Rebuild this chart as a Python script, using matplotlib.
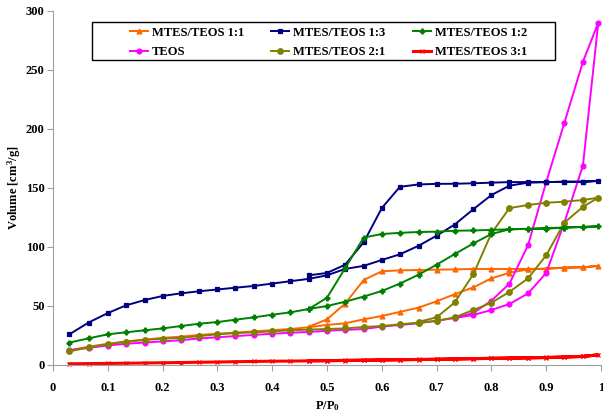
import matplotlib
matplotlib.use("Agg")
from matplotlib import pyplot as plt
from matplotlib.patches import Rectangle

plt.rcParams['font.family'] = ['Liberation Serif', 'DejaVu Serif']
plt.rcParams['font.weight'] = 'bold'
plt.rcParams['mathtext.fontset'] = 'custom'
plt.rcParams['mathtext.rm'] = 'Liberation Serif:bold'
plt.rcParams['mathtext.it'] = 'Liberation Serif:bold'

# relative pressure, adsorption and desorption points
p_ads = [0.03, 0.065, 0.1, 0.133, 0.167, 0.2, 0.233, 0.267, 0.3, 0.333, 0.367, 0.4, 0.433, 0.467, 0.5,
         0.533, 0.567, 0.6, 0.633, 0.667, 0.7, 0.733, 0.767, 0.8, 0.833, 0.867, 0.9, 0.933, 0.967, 0.995]
p_des = [0.967, 0.933, 0.9, 0.867, 0.833, 0.8, 0.767, 0.733, 0.7, 0.667, 0.633, 0.6, 0.567, 0.533, 0.5, 0.467]

# MTES/TEOS 1:1
ads_11 = [12.5, 15.5, 18, 20, 21.5, 23, 24, 25.5, 26.5, 27.5, 28.5, 29.5, 30.5, 32, 34,
          35.3, 38.7, 41.5, 45, 48.6, 54, 60, 65.8, 73.4, 78.2, 81, 81.6, 82.5, 82.8, 84]
des_11 = [82.8, 82.5, 81.6, 81.4, 81.4, 81.4, 81.4, 81, 80.8, 80.5, 80.2, 79.4, 72, 52, 38.7, 32.5]
# MTES/TEOS 1:3
ads_13 = [26, 36, 44, 50.5, 55, 58.5, 60.7, 62.5, 64, 65.5, 67, 69, 71, 73, 76,
          81.4, 84, 89, 93.8, 101, 109.6, 119, 132, 144, 152, 154.5, 155, 155.3, 155.3, 156]
des_13 = [155.3, 155.3, 155, 155, 155, 154.5, 154, 153.6, 153.5, 153, 151, 133, 104, 85, 78, 76]
# MTES/TEOS 1:2
ads_12 = [19, 22.6, 26, 27.7, 29.4, 31, 33, 35, 36.4, 38.4, 40.4, 42.6, 44.6, 47.5, 50,
          53.6, 58, 62.7, 69, 76.5, 85, 94, 103, 111, 115, 115.3, 115.5, 116.4, 117, 117.5]
des_12 = [117, 116.5, 116, 115.5, 115, 114.5, 114, 113.8, 113, 112.7, 112, 111, 108, 82, 57, 47.5]
# TEOS
ads_teos = [12.5, 14.5, 16.5, 18, 19, 20, 21, 22.5, 23.5, 24.5, 25.5, 26.5, 27.3, 28, 29,
            29.7, 30.5, 32.5, 33.9, 35.3, 37.6, 39.8, 42.4, 46.6, 51.7, 60.7, 78, 120.6, 169, 290]
des_teos = [257, 205, 155, 101.7, 69, 54.5, 44, 40]
# MTES/TEOS 2:1
ads_21 = [11.5, 15, 17.5, 19.7, 21.2, 22.3, 23, 24.5, 26, 27, 27.7, 28.5, 29.4, 30, 30.5,
          31, 32.2, 33, 34.5, 35.9, 37.3, 40.4, 46.6, 52.8, 62, 73.5, 93, 120.6, 134, 141.8]
des_21 = [139.8, 138.4, 137.5, 135.6, 133, 111.6, 76.9, 53, 40.4, 36.5]
# MTES/TEOS 3:1
ads_31 = [1, 1.2, 1.3, 1.5, 1.7, 1.9, 2.1, 2.3, 2.5, 2.8, 3, 3.2, 3.3, 3.5, 3.6,
          3.8, 4, 4.2, 4.4, 4.6, 4.8, 5, 5.3, 5.6, 5.8, 6, 6.3, 6.7, 7.2, 8.6]
des_31 = [7.3, 6.8, 6.4, 6.1, 5.9, 5.7, 5.4, 5.2, 4.9, 4.7, 4.5, 4.3, 4.1, 3.9, 3.7, 3.6]

series = [
    ("MTES/TEOS 1:1", ads_11, des_11, "#FF6600", "^", 3.5),
    ("TEOS", ads_teos, des_teos, "#FF00FF", "o", 3.5),
    ("MTES/TEOS 1:3", ads_13, des_13, "#000080", "s", 3.2),
    ("MTES/TEOS 2:1", ads_21, des_21, "#808000", "o", 4),
    ("MTES/TEOS 1:2", ads_12, des_12, "#008000", "P", 3.5),
    ("MTES/TEOS 3:1", ads_31, des_31, "#FF0000", "x", 3.5),
]

fig = plt.figure(figsize=(6.03, 4.15), dpi=100)
ax = fig.add_axes([0.0879, 0.1205, 0.9088, 0.853])

for name, ads, des, col, mk, ms in series:
    x = p_ads + p_des[:len(des)]
    y = ads + des
    lw = 2.2 if name.endswith("3:1") else 1.4
    ax.plot(x, y, color=col, marker=mk, markersize=ms, linewidth=lw,
            markeredgewidth=0.9, label=name, clip_on=False)

ax.set_xlim(0, 1)
ax.set_ylim(0, 300)
ax.set_xticks([0, 0.1, 0.2, 0.3, 0.4, 0.5, 0.6, 0.7, 0.8, 0.9, 1])
ax.set_xticklabels(["0", "0.1", "0.2", "0.3", "0.4", "0.5", "0.6", "0.7", "0.8", "0.9", "1"])
ax.set_yticks(range(0, 301, 50))
for s in ["top", "right"]:
    ax.spines[s].set_visible(False)
for s in ["left", "bottom"]:
    ax.spines[s].set_color("#A0A0A0")
ax.tick_params(axis="both", colors="#A0A0A0", labelcolor="black", labelsize=9, length=4)
ax.tick_params(axis="x", pad=8)
ax.tick_params(axis="y", pad=2)
ax.set_xlabel("P/P$_0$", fontsize=9, fontweight="bold", labelpad=4)
ax.set_ylabel("Volume [cm$^3$/g]", fontsize=9, fontweight="bold")
ax.yaxis.set_label_coords(-0.054, 0.5)

# legend box drawn by hand, entries placed inside it
fig.patches.append(Rectangle((0.1526, 0.8554), 0.7678, 0.0916, transform=fig.transFigure,
                             facecolor="white", edgecolor="black", linewidth=1.0, zorder=5))
leg = fig.legend(*ax.get_legend_handles_labels(), ncol=3, loc="upper left",
                 bbox_to_anchor=(0.2156, 0.936), fontsize=9, frameon=False,
                 handlelength=1.45, handletextpad=0.32, columnspacing=2.15,
                 borderpad=0, borderaxespad=0, labelspacing=0.62)
leg.set_zorder(6)

plt.savefig("out.png", dpi=100)
